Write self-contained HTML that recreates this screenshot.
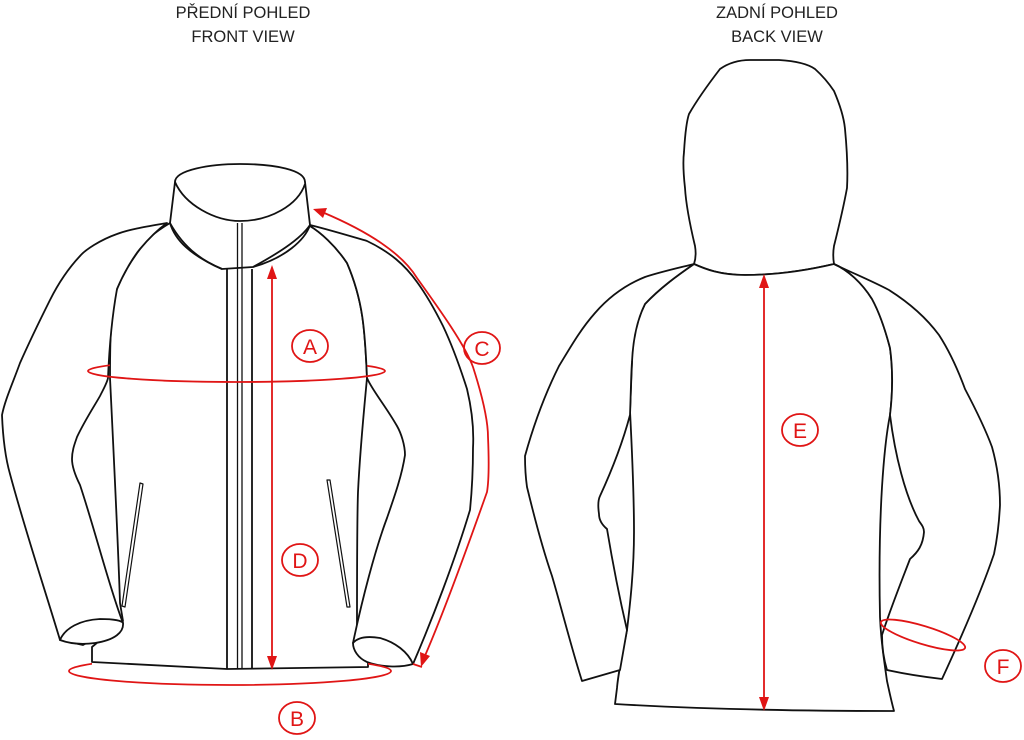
<!DOCTYPE html>
<html><head><meta charset="utf-8"><style>
html,body{margin:0;padding:0;background:#fff;}
svg{display:block}
text{font-family:"Liberation Sans",sans-serif;}
</style></head><body>
<svg width="1024" height="740" viewBox="0 0 1024 740" xmlns="http://www.w3.org/2000/svg">
<defs>
<clipPath id="cA"><rect x="0" y="0" width="110" height="740"/><rect x="367" y="0" width="700" height="740"/><rect x="0" y="371" width="1024" height="400"/></clipPath>
<clipPath id="cB"><rect x="0" y="0" width="92" height="740"/><rect x="368" y="0" width="700" height="740"/><rect x="0" y="669" width="1024" height="100"/></clipPath>
</defs>
<rect width="1024" height="740" fill="#fff"/>
<g font-size="16.5" fill="#222" text-anchor="middle">
<text x="243" y="18">PŘEDNÍ POHLED</text>
<text x="243" y="42">FRONT VIEW</text>
<text x="777" y="18">ZADNÍ POHLED</text>
<text x="777" y="42">BACK VIEW</text>
</g>

<g fill="#fff" stroke="#111" stroke-width="1.8" stroke-linejoin="round">
<path d="M110,378 C113,440 118,540 120,603 L123,621 L92,647 L92,662 C150,665 200,668 227,669 L368,667 L368,660 L357,625 C357,560 357,520 358,492 C360,450 364,410 367,378 C365,330 363,300 347,263 C335,245 320,232 310,226 L170,223 C155,232 145,240 140,249 C128,265 120,280 117,289 C112,305 110,320 110,378 Z"/>
<path d="M167,223 C150,226 130,229 117,234 C100,240 85,250 80,256 C65,272 55,290 50,300 C40,320 28,345 20,363 C12,385 5,400 2,415 C3,440 6,460 10,474 C25,530 45,590 60,640 L83,645 L123,623 C110,590 95,530 80,485 C75,475 72,465 72,459 C72,450 75,443 77,437 C85,420 95,405 100,396 C104,388 107,383 108,378 C110,330 115,300 117,289 C125,270 135,255 140,249 C150,237 160,228 167,223 Z"/>
<path d="M60,640 C65,628 80,620 100,619 C115,619 122,621 123,623 C124,632 115,640 95,643 C80,645 68,643 60,640 Z"/>
<path d="M310,225 C330,230 350,236 367,241 C390,252 405,265 417,282 C428,297 436,312 443,326 C452,345 460,367 467,389 C472,410 474,430 473,448 C473,470 472,490 470,510 C455,560 432,620 413,664 L380,660 L353,643 C362,600 375,550 387,518 C395,495 402,475 405,455 C405,445 401,433 397,426 C385,405 372,390 367,378 C365,330 363,300 347,263 C335,245 320,232 310,226 Z"/>
<path d="M353,643 C358,637 368,636 380,638 C395,642 408,652 413,664 C400,668 380,667 367,662 C358,658 353,650 353,643 Z"/>
<path d="M175,182 C175,170 210,164 240,164 C275,164 305,170 305,182 L310,225 C300,240 275,255 253,267 L222,269 C205,262 185,250 170,223 Z"/>
<path d="M175,182 C185,205 215,221 240,221 C270,221 298,205 305,184" fill="none"/>
<path d="M170,223 C175,240 190,255 222,269 M310,225 C305,240 285,258 253,267" fill="none"/>
<path d="M227,269 L227,669 M252,269 L252,669" fill="none"/>
<path d="M237.5,223 L237.5,669 M242,223 L242,669" fill="none" stroke-width="1.3"/>
<path d="M140,483 L143,484 L125,607 L122,606 Z" stroke-width="1.2"/>
<path d="M327,480 L330,480 L350,607 L347,607 Z" stroke-width="1.2"/>

<path d="M694,264 C696,258 696,252 695,246 C690,225 686,205 685,188 C683,170 683,160 684,152 C685,135 687,120 689,114 C697,100 710,82 720,69 C730,62 740,60 750,60 L779,60 C795,61 808,64 815,69 C825,78 830,85 834,91 C840,105 844,118 845,129 C847,150 848,170 847,188 C843,210 838,230 834,246 C833,252 833,258 834,264 C800,272 770,275 745,275 C720,275 705,269 694,264 Z"/>
<path d="M630,411 C632,450 634,490 634,532 C634,570 630,605 627,630 C622,655 618,675 617,688 L615,704 C700,709 800,711 894,711 C891,700 889,690 887,681 C884,660 881,640 880,617 C879,570 880,520 882,487 C884,455 887,430 890,415 C893,390 893,370 890,348 C884,325 878,310 872,299 C862,283 848,270 834,264 C800,272 770,275 745,275 C720,275 705,269 694,264 C678,275 660,288 645,304 C637,320 632,340 632,362 Z"/>
<path d="M694,264 C678,268 660,272 645,277 C625,285 608,298 595,313 C580,330 570,348 559,366 C548,388 535,420 525,456 C525,470 526,480 527,487 C535,520 543,550 552,576 C562,610 572,650 582,681 L620,670 L627,630 C620,600 613,565 607,529 C601,524 599,519 599,514 C598,507 598,500 600,496 C612,470 622,445 630,415 C631,390 631,375 632,362 C633,340 637,320 645,304 C660,288 678,275 694,264 Z"/>
<path d="M834,264 C850,272 870,280 889,290 C908,302 925,316 939,335 C950,352 958,370 965,389 C975,408 985,428 992,447 C997,465 1000,485 1000,505 C999,525 997,540 994,554 C980,595 960,640 942,679 C925,677 905,674 887,670 C884,660 882,650 882,635 C890,610 900,585 910,559 C918,552 923,545 924,532 C924,527 921,524 919,521 C905,495 895,455 890,415 C893,390 893,370 890,348 C884,325 878,310 872,299 C862,283 848,270 834,264 Z"/>
</g>

<g fill="none" stroke="#e01515" stroke-width="1.8">
<ellipse cx="236.5" cy="371" rx="148.5" ry="11" clip-path="url(#cA)"/>
<ellipse cx="230" cy="671" rx="161" ry="14" clip-path="url(#cB)"/>
<line x1="272" y1="275" x2="272" y2="661"/>
<path d="M322,212 C360,228 400,250 417,278 C440,310 465,345 473,367 C482,395 488,420 488,437 C489,460 489,480 487,492 C470,540 445,610 424,658"/>
<path d="M413,664 L422,667"/>
<line x1="764" y1="284" x2="764" y2="702"/>
<ellipse cx="923" cy="635" rx="44" ry="9" transform="rotate(17 923 635)"/>
<ellipse cx="310" cy="346" rx="18" ry="16"/>
<ellipse cx="300" cy="560" rx="18" ry="16"/>
<ellipse cx="297" cy="718" rx="18" ry="16"/>
<ellipse cx="482" cy="348" rx="18" ry="16"/>
<ellipse cx="800" cy="430" rx="18" ry="16"/>
<ellipse cx="1003" cy="666" rx="18" ry="16"/>
</g>
<g fill="#e01515">
<polygon points="272,265 267,279 277,279"/>
<polygon points="272,670 267,656 277,656"/>
<polygon points="764,274 759,288 769,288"/>
<polygon points="764,711 759,697 769,697"/>
<polygon points="313,209 327,208 323,218"/>
<polygon points="421,667 420,652 430,656"/>
</g>
<g fill="#e01515" font-size="21" text-anchor="middle">
<text x="310" y="354">A</text>
<text x="300" y="568">D</text>
<text x="297" y="726">B</text>
<text x="482" y="356">C</text>
<text x="800" y="438">E</text>
<text x="1003" y="674">F</text>
</g>
</svg>
</body></html>
